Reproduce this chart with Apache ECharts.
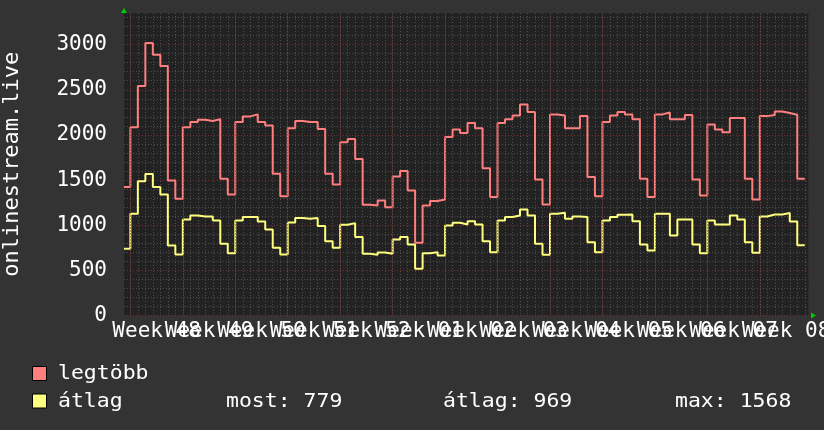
<!DOCTYPE html>
<html><head><meta charset="utf-8">
<script src="https://cdn.jsdelivr.net/npm/echarts@6/dist/echarts.min.js"></script>
<style>html,body{margin:0;padding:0;background:#333333;}#c{width:824px;height:430px;}</style>
</head><body><div id="c"></div>
<script>
// Week labels (centred in each week), week start days (Mondays), day 0 = Monday of week 48
const weekLabels = ['Week 48','Week 49','Week 50','Week 51','Week 52','Week 01','Week 02','Week 03','Week 04','Week 05','Week 06','Week 07','Week 08'];
const weekStarts = [0,7,14,21,28,35,42,49,56,63,70,77,84];
const yTickLabels = [0,500,1000,1500,2000,2500,3000];
const firstDay = -0.85;   // first (partial) day sample starts here
const dataEnd = 90;       // last sample ends here

// daily values, day -1 (partial) .. day 89
const maxVals = [1422,
  2086,2541,3017,2888,2762,1496,1293,
  2086,2142,2168,2153,2175,1514,1341,
  2142,2205,2227,2142,2105,1570,1322,
  2075,2153,2142,2142,2066,1570,1451,
  1920,1955,1732,1226,1219,1274,1200,
  1540,1599,1385,805,1219,1267,1285,
  1976,2061,2020,2131,2075,1632,1311,
  2131,2172,2216,2338,2253,1507,1230,
  2227,2216,2075,2075,2208,1533,1322,
  2142,2216,2253,2227,2172,1514,1311,
  2227,2249,2172,2172,2220,1507,1330,
  2116,2061,2028,2186,2186,1514,1285,
  2208,2220,2260,2242,2223,1514];
const avgVals = [739,
  1127,1488,1568,1422,1341,776,676,
  1064,1108,1097,1097,1053,794,690,
  1053,1090,1090,1042,953,750,676,
  1030,1079,1071,1079,990,823,750,
  1005,1023,868,683,672,698,683,
  842,868,787,517,690,701,665,
  997,1027,1008,1045,1008,823,701,
  1053,1090,1108,1175,1108,794,672,
  1127,1138,1071,1097,1090,812,701,
  1053,1090,1116,1119,1045,787,720,
  1127,1127,886,1064,1064,787,690,
  1053,1008,1008,1108,1064,812,694,
  1097,1119,1119,1134,1042,779];
const seriesNames = ['legtöbb','átlag'];
const statLabels = ['most: 779','átlag: 969','max: 1568'];

const C = {plot:'#222222', minor:'#4e4e4e', major:'#7e2e2e', red:'#ff7f7f', yellow:'#ffff7f', arrow:'#00cc00', text:'#ffffff'};
const FONT = 'DejaVu Sans Mono';
const LFONT = '19px "' + FONT + '"';
const LSCALE = 1.13;

function stepData(vals){
  const d = vals.map((v,i)=>[i===0?firstDay:i-1, v]);
  d.push([dataEnd, vals[vals.length-1]]);
  return d;
}

const chart = echarts.init(document.getElementById('c'), null, {renderer:'canvas'});
chart.setOption({
  backgroundColor:'#333333',
  animation:false,
  grid:{left:124, right:15.5, top:13, bottom:114.5, show:true, backgroundColor:C.plot, borderWidth:0, containLabel:false, outerBoundsMode:'none'},
  xAxis:[{
    type:'value', min:firstDay, max:90.5, minInterval:1, maxInterval:1,
    axisLabel:{show:false}, axisTick:{show:false},
    axisLine:{show:true, onZero:false, lineStyle:{color:C.arrow, width:0}, symbol:['none','triangle'], symbolSize:[6,5], symbolOffset:[0,5]},
    splitLine:{show:true, showMinLine:false, showMaxLine:false, lineStyle:{color:C.minor, type:[1,2], width:1}}
  },{
    type:'value', min:firstDay, max:90.5, minInterval:0.5, maxInterval:0.5, position:'bottom',
    axisLine:{show:false}, axisTick:{show:false}, splitLine:{show:false},
    axisLabel:{show:true, margin:6, color:C.text, fontSize:21, fontFamily:FONT, hideOverlap:false,
      formatter:function(v){const k=(v-3.5)/7; return (Number.isInteger(k)&&k>=0&&k<weekLabels.length)?weekLabels[k]:'';}}
  }],
  yAxis:{
    type:'value', min:0, max:3350, interval:100,
    name:'onlinestream.live', nameLocation:'middle', nameGap:101,
    nameTextStyle:{color:C.text, fontSize:22, fontFamily:FONT},
    axisLabel:{margin:17, color:C.text, fontSize:21, fontFamily:FONT,
      formatter:function(v){return yTickLabels.indexOf(v)>=0?String(v):'';}},
    axisTick:{show:false},
    axisLine:{show:true, onZero:false, lineStyle:{color:C.arrow, width:0}, symbol:['none','triangle'], symbolSize:[6,5], symbolOffset:[0,2.5]},
    splitLine:{show:true, showMaxLine:false, lineStyle:{color:[C.major,C.minor,C.minor,C.minor,C.minor], type:[1,2], width:1}}
  },
  series:[{
    type:'line', data:[], z:1, silent:true,
    markLine:{silent:true, symbol:['none','none'], label:{show:false}, animation:false,
      lineStyle:{color:C.major, type:[1,2], width:1},
      data:weekStarts.map(v=>({xAxis:v}))}
  },{
    name:seriesNames[0], type:'line', step:'end', showSymbol:false, symbol:'none', z:3,
    lineStyle:{color:C.red, width:2}, itemStyle:{color:C.red}, data:stepData(maxVals)
  },{
    name:seriesNames[1], type:'line', step:'end', showSymbol:false, symbol:'none', z:3,
    lineStyle:{color:C.yellow, width:2}, itemStyle:{color:C.yellow}, data:stepData(avgVals)
  }],
  graphic:[
    {type:'rect', shape:{x:32.5, y:366.5, width:14, height:14}, style:{fill:C.red, stroke:'#000', lineWidth:1}},
    {type:'rect', shape:{x:32.5, y:394, width:14, height:14}, style:{fill:C.yellow, stroke:'#000', lineWidth:1}},
    {type:'text', x:58, y:374, scaleX:LSCALE, style:{text:seriesNames[0], fill:C.text, font:LFONT, verticalAlign:'middle'}},
    {type:'text', x:58, y:402.5, scaleX:LSCALE, style:{text:seriesNames[1], fill:C.text, font:LFONT, verticalAlign:'middle'}},
    {type:'text', x:226, y:402.5, scaleX:LSCALE, style:{text:statLabels[0], fill:C.text, font:LFONT, verticalAlign:'middle'}},
    {type:'text', x:443, y:402.5, scaleX:LSCALE, style:{text:statLabels[1], fill:C.text, font:LFONT, verticalAlign:'middle'}},
    {type:'text', x:675, y:402.5, scaleX:LSCALE, style:{text:statLabels[2], fill:C.text, font:LFONT, verticalAlign:'middle'}}
  ]
});
</script></body></html>
